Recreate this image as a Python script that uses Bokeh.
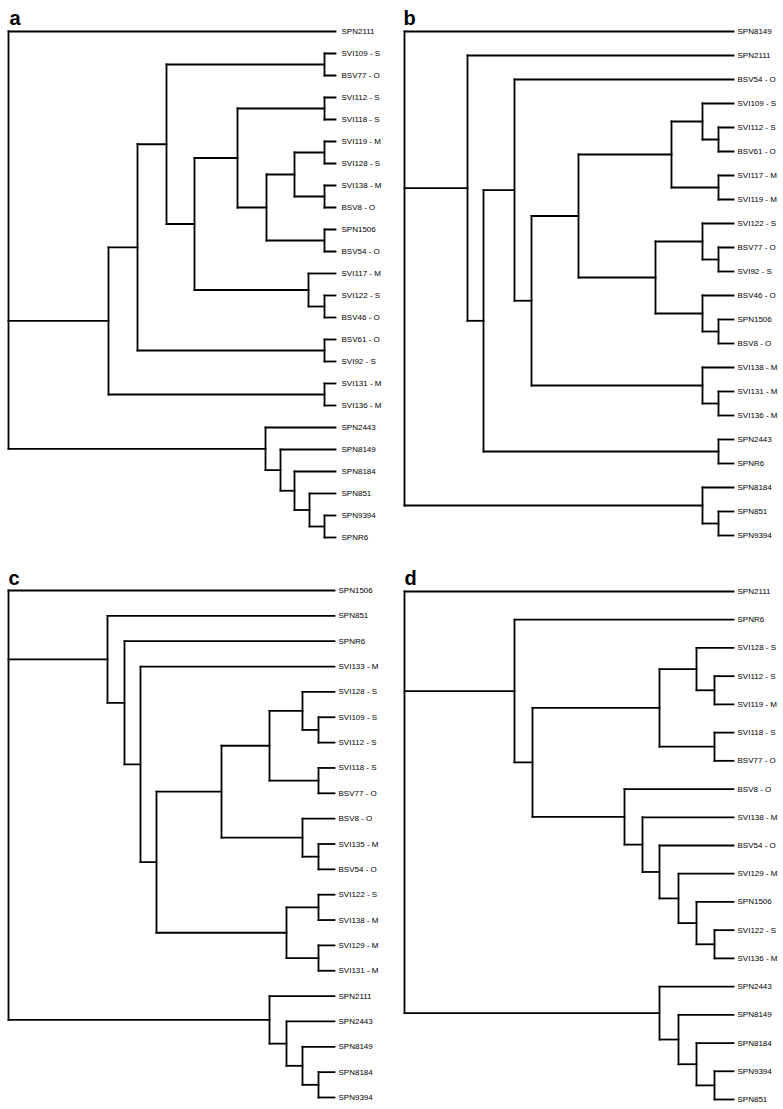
from bokeh.plotting import figure
from bokeh.models import Range1d, ColumnDataSource
from bokeh.embed import file_html
from bokeh.resources import INLINE
from bokeh.core.properties import value

# ---------------- data: four dendrograms ----------------
# leaves top-to-bottom; internal nodes: id, distance from root, children
a_leaves = ["SPN2111", "SVI109 - S", "BSV77 - O", "SVI112 - S", "SVI118 - S", "SVI119 - M",
            "SVI128 - S", "SVI138 - M", "BSV8 - O", "SPN1506", "BSV54 - O", "SVI117 - M",
            "SVI122 - S", "BSV46 - O", "BSV61 - O", "SVI92 - S", "SVI131 - M", "SVI136 - M",
            "SPN2443", "SPN8149", "SPN8184", "SPN851", "SPN9394", "SPNR6"]
a_tip = 327
a_node_ids = ["r", "B", "C", "D", "E", "F", "H", "I", "G", "J", "K", "L", "M", "N",
              "P1", "P2", "P3", "P4", "P5", "P6", "P8", "P9"]
a_node_dist = [0, 100, 129, 158, 186, 229, 258, 286, 300, 257, 272, 286, 301, 316,
               316, 316, 316, 316, 316, 316, 316, 316]
a_node_children = [["SPN2111", "B", "J"], ["C", "P9"], ["D", "P8"], ["P1", "E"], ["F", "G"],
                   ["P2", "H"], ["I", "P5"], ["P3", "P4"], ["SVI117 - M", "P6"],
                   ["SPN2443", "K"], ["SPN8149", "L"], ["SPN8184", "M"], ["SPN851", "N"],
                   ["SPN9394", "SPNR6"],
                   ["SVI109 - S", "BSV77 - O"], ["SVI112 - S", "SVI118 - S"],
                   ["SVI119 - M", "SVI128 - S"], ["SVI138 - M", "BSV8 - O"],
                   ["SPN1506", "BSV54 - O"], ["SVI122 - S", "BSV46 - O"],
                   ["BSV61 - O", "SVI92 - S"], ["SVI131 - M", "SVI136 - M"]]

b_leaves = ["SPN8149", "SPN2111", "BSV54 - O", "SVI109 - S", "SVI112 - S", "BSV61 - O",
            "SVI117 - M", "SVI119 - M", "SVI122 - S", "BSV77 - O", "SVI92 - S", "BSV46 - O",
            "SPN1506", "BSV8 - O", "SVI138 - M", "SVI131 - M", "SVI136 - M", "SPN2443",
            "SPNR6", "SPN8184", "SPN851", "SPN9394"]
b_tip = 329
b_node_ids = ["r", "B", "C", "D", "E", "F", "G", "U", "H", "I", "J", "T", "S",
              "P1", "P2", "P3", "P4", "P5", "P6", "P7"]
b_node_dist = [0, 63, 79, 110, 127, 174, 267, 298, 251, 298, 298, 298, 298,
               314, 314, 314, 314, 314, 314, 314]
b_node_children = [["SPN8149", "B", "S"], ["SPN2111", "C"], ["D", "P1"], ["BSV54 - O", "E"],
                   ["F", "T"], ["G", "H"], ["U", "P2"], ["SVI109 - S", "P3"], ["I", "J"],
                   ["SVI122 - S", "P4"], ["BSV46 - O", "P5"], ["SVI138 - M", "P6"],
                   ["SPN8184", "P7"],
                   ["SPN2443", "SPNR6"], ["SVI117 - M", "SVI119 - M"],
                   ["SVI112 - S", "BSV61 - O"], ["BSV77 - O", "SVI92 - S"],
                   ["SPN1506", "BSV8 - O"], ["SVI131 - M", "SVI136 - M"],
                   ["SPN851", "SPN9394"]]

c_leaves = ["SPN1506", "SPN851", "SPNR6", "SVI133 - M", "SVI128 - S", "SVI109 - S",
            "SVI112 - S", "SVI118 - S", "BSV77 - O", "BSV8 - O", "SVI135 - M", "BSV54 - O",
            "SVI122 - S", "SVI138 - M", "SVI129 - M", "SVI131 - M", "SPN2111", "SPN2443",
            "SPN8149", "SPN8184", "SPN9394"]
c_tip = 326
c_node_ids = ["r", "B", "C", "D", "E", "F", "H", "J", "I", "G", "K", "L", "M",
              "P1", "P2", "P3", "P4", "P5", "P6"]
c_node_dist = [0, 99, 116, 132, 148, 213, 261, 294, 294, 278, 261, 278, 294,
               310, 310, 310, 310, 310, 310]
c_node_children = [["SPN1506", "B", "K"], ["SPN851", "C"], ["SPNR6", "D"], ["SVI133 - M", "E"],
                   ["F", "G"], ["H", "I"], ["J", "P2"], ["SVI128 - S", "P1"],
                   ["BSV8 - O", "P3"], ["P4", "P5"], ["SPN2111", "L"], ["SPN2443", "M"],
                   ["SPN8149", "P6"],
                   ["SVI109 - S", "SVI112 - S"], ["SVI118 - S", "BSV77 - O"],
                   ["SVI135 - M", "BSV54 - O"], ["SVI122 - S", "SVI138 - M"],
                   ["SVI129 - M", "SVI131 - M"], ["SPN8184", "SPN9394"]]

d_leaves = ["SPN2111", "SPNR6", "SVI128 - S", "SVI112 - S", "SVI119 - M", "SVI118 - S",
            "BSV77 - O", "BSV8 - O", "SVI138 - M", "BSV54 - O", "SVI129 - M", "SPN1506",
            "SVI122 - S", "SVI136 - M", "SPN2443", "SPN8149", "SPN8184", "SPN9394", "SPN851"]
d_tip = 329
d_node_ids = ["r", "B", "C", "D", "F", "E", "G", "H", "I", "J", "K0", "K", "L",
              "P1", "P2", "P3", "P4"]
d_node_dist = [0, 110, 128, 255, 292, 220, 238, 255, 274, 292, 255, 274, 292,
               310, 310, 310, 310]
d_node_children = [["SPN2111", "B", "K0"], ["SPNR6", "C"], ["D", "E"], ["F", "P2"],
                   ["SVI128 - S", "P1"], ["BSV8 - O", "G"], ["SVI138 - M", "H"],
                   ["BSV54 - O", "I"], ["SVI129 - M", "J"], ["SPN1506", "P3"],
                   ["SPN2443", "K"], ["SPN8149", "L"], ["SPN8184", "P4"],
                   ["SVI112 - S", "SVI119 - M"], ["SVI118 - S", "BSV77 - O"],
                   ["SVI122 - S", "SVI136 - M"], ["SPN9394", "SPN851"]]

panel_letters = ["a", "b", "c", "d"]

# ---------------- layout (page pixel positions) ----------------
W, H = 783, 1109
p = figure(width=W, height=H, output_backend="svg", toolbar_location=None,
           x_range=Range1d(0, W), y_range=Range1d(H, 0),
           min_border=0, outline_line_color=None, background_fill_color="white")
p.axis.visible = False
p.grid.visible = False

panels = [
    dict(leaves=a_leaves, tip=a_tip, ids=a_node_ids, dist=a_node_dist, ch=a_node_children,
         x0=8, top=31, bottom=537, gap=6, lx=9, ly=17),
    dict(leaves=b_leaves, tip=b_tip, ids=b_node_ids, dist=b_node_dist, ch=b_node_children,
         x0=404, top=31, bottom=535, gap=4, lx=403, ly=17),
    dict(leaves=c_leaves, tip=c_tip, ids=c_node_ids, dist=c_node_dist, ch=c_node_children,
         x0=8, top=590, bottom=1097, gap=4, lx=8, ly=577),
    dict(leaves=d_leaves, tip=d_tip, ids=d_node_ids, dist=d_node_dist, ch=d_node_children,
         x0=404, top=591, bottom=1099, gap=4, lx=404, ly=577),
]

sx0, sy0, sx1, sy1 = [], [], [], []
tx, ty, tt = [], [], []
for pan in panels:
    leaves = pan["leaves"]
    n = len(leaves)
    step = (pan["bottom"] - pan["top"]) / (n - 1)
    X, Y = {}, {}
    for i, nm in enumerate(leaves):
        X[nm] = pan["x0"] + pan["tip"]
        Y[nm] = pan["top"] + i * step
        tx.append(X[nm] + pan["gap"]); ty.append(Y[nm]); tt.append(nm)
    nodes = dict(zip(pan["ids"], zip(pan["dist"], pan["ch"])))

    def place(nid):
        if nid in Y:
            return
        d, ch = nodes[nid]
        for c in ch:
            place(c)
        X[nid] = pan["x0"] + d
        Y[nid] = (Y[ch[0]] + Y[ch[-1]]) / 2

    for nid in pan["ids"]:
        place(nid)
    for nid in pan["ids"]:
        d, ch = nodes[nid]
        sx0.append(X[nid]); sy0.append(Y[ch[0]]); sx1.append(X[nid]); sy1.append(Y[ch[-1]])
        for c in ch:
            sx0.append(X[nid]); sy0.append(Y[c]); sx1.append(X[c]); sy1.append(Y[c])

seg = ColumnDataSource(dict(x0=sx0, y0=sy0, x1=sx1, y1=sy1))
p.segment("x0", "y0", "x1", "y1", source=seg, line_color="black", line_width=1.8,
          line_cap="square")

lab = ColumnDataSource(dict(x=tx, y=ty, t=tt))
p.text("x", "y", text="t", source=lab, text_font=value("Liberation Sans"),
       text_font_size="8px", text_baseline="middle", text_align="left", text_color="black")

let = ColumnDataSource(dict(x=[pn["lx"] for pn in panels], y=[pn["ly"] for pn in panels],
                            t=panel_letters))
p.text("x", "y", text="t", source=let, text_font=value("Liberation Sans"),
       text_font_size="20px", text_font_style="bold", text_baseline="alphabetic",
       text_align="left", text_color="black")

open("out.html", "w").write(file_html(p, INLINE))
